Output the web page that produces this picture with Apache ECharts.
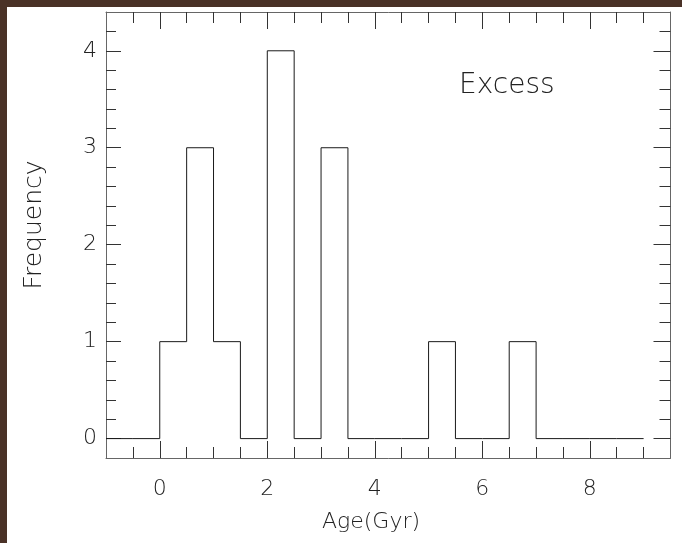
<!DOCTYPE html>
<html>
<head>
<meta charset="utf-8">
<script src="https://cdn.jsdelivr.net/npm/echarts@6/dist/echarts.min.js"></script>
<style>
html,body{margin:0;padding:0;background:#fff;}
#chart{width:682px;height:543px;}
</style>
</head>
<body>
<div id="chart"></div>
<script>
// Histogram bins (left edges, 0.5 Gyr wide) and counts
const binLeft = [-1, -0.5, 0, 0.5, 1, 1.5, 2, 2.5, 3, 3.5, 4, 4.5, 5, 5.5, 6, 6.5, 7, 7.5, 8, 8.5];
const counts  = [ 0,    0, 1,   3, 1,   0, 4,   0, 3,   0, 0,   0, 1,   0, 0,   1, 0,   0, 0,   0];
const binEnd = 9;

// Tick values
const xMajorTicks = [0, 2, 4, 6, 8];
const xMinorTicks = [-0.5, 0.5, 1, 1.5, 2.5, 3, 3.5, 4.5, 5, 5.5, 6.5, 7, 7.5, 8.5, 9];
const yMajorTicks = [0, 1, 2, 3, 4];
const yMinorTicks = [0.2, 0.4, 0.6, 0.8, 1.2, 1.4, 1.6, 1.8, 2.2, 2.4, 2.6, 2.8, 3.2, 3.4, 3.6, 3.8, 4.2];

const xTitle = 'Age(Gyr)';
const yTitle = 'Frequency';
const label = 'Excess';

const histData = binLeft.map((x, i) => [x, counts[i]]).concat([[binEnd, counts[counts.length - 1]]]);

const FONT = '"DejaVu Sans", sans-serif';
const TXT = '#222';
const FRAME = '#666';

function xAx(pos, ticks, len, showLine, showLabel) {
  return {
    type: 'value', position: pos, min: -1, max: 9.5,
    axisLine: {show: showLine, onZero: false, lineStyle: {color: FRAME, width: 1}},
    axisTick: {show: true, inside: true, length: len, customValues: ticks, lineStyle: {color: '#333', width: 1}},
    axisLabel: showLabel ? {show: true, customValues: ticks, margin: 20, fontSize: 22, fontFamily: FONT, fontWeight: 200, color: TXT} : {show: false},
    splitLine: {show: false}
  };
}
function yAx(pos, ticks, len, showLine, showLabel) {
  return {
    type: 'value', position: pos, min: -0.2, max: 4.4,
    axisLine: {show: showLine, onZero: false, lineStyle: {color: FRAME, width: 1}},
    axisTick: {show: true, inside: true, length: len, customValues: ticks, lineStyle: {color: '#333', width: 1}},
    axisLabel: showLabel ? {show: true, customValues: ticks, margin: 9, fontSize: 22, fontFamily: FONT, fontWeight: 200, color: TXT} : {show: false},
    splitLine: {show: false}
  };
}

const chart = echarts.init(document.getElementById('chart'), null, {renderer: 'canvas'});
chart.setOption({
  animation: false,
  backgroundColor: '#fff',
  grid: {left: 106, right: 11.5, top: 12, bottom: 85, containLabel: false},
  xAxis: [
    xAx('bottom', xMajorTicks, 17, true, true),
    xAx('bottom', xMinorTicks, 11, false, false),
    xAx('top', xMajorTicks, 17, true, false),
    xAx('top', xMinorTicks, 11, false, false)
  ],
  yAxis: [
    yAx('left', yMajorTicks, 15, true, true),
    yAx('left', yMinorTicks, 10, false, false),
    yAx('right', yMajorTicks, 17, true, false),
    yAx('right', yMinorTicks, 11, false, false)
  ],
  series: [{
    type: 'line',
    xAxisIndex: 0, yAxisIndex: 0,
    step: 'end',
    data: histData,
    showSymbol: false,
    symbol: 'none',
    lineStyle: {color: '#1a1a1a', width: 1},
    clip: false
  }],
  graphic: [
    {type: 'rect', left: 0, top: 0, z: 100, shape: {width: 7, height: 543}, style: {fill: '#4a3227'}},
    {type: 'rect', left: 0, top: 0, z: 100, shape: {width: 682, height: 7}, style: {fill: '#4a3227'}},
    {type: 'text', left: 459, top: 72, style: {text: label, fontSize: 28, fontFamily: FONT, fontWeight: 200, fill: TXT}},
    {type: 'text', x: 371, y: 522, style: {text: xTitle, align: 'center', verticalAlign: 'middle', fontSize: 22, fontFamily: FONT, fontWeight: 200, fill: TXT}},
    {type: 'text', x: 34, y: 225, rotation: Math.PI / 2, style: {text: yTitle, align: 'center', verticalAlign: 'middle', fontSize: 25, fontFamily: FONT, fontWeight: 200, fill: TXT}}
  ]
});
</script>
</body>
</html>
